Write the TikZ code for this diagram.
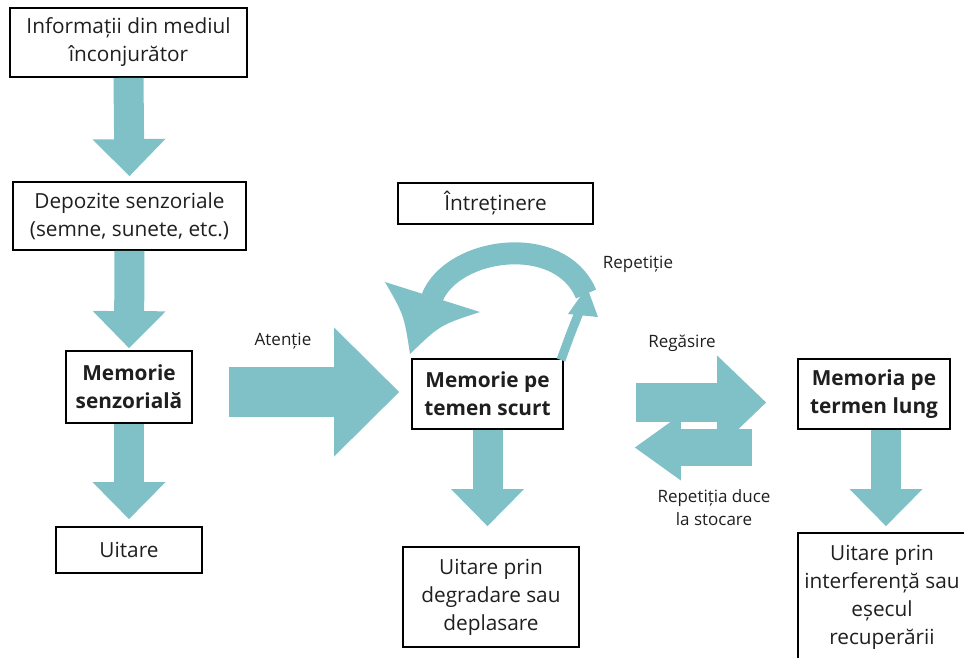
\documentclass[tikz,border=0pt]{standalone}
\usepackage{fontspec}
\setmainfont{Open Sans}
\usetikzlibrary{arrows.meta,calc}
\definecolor{flowteal}{RGB}{127,193,199}

\begin{document}
\begin{tikzpicture}[x=1pt,y=-1pt,
box/.style={draw=black,line width=1.8pt,align=center,inner sep=0pt,font=\fontsize{20.8}{28}\selectfont,text=black!88},
boldbox/.style={box,font=\fontsize{20.8}{28}\selectfont\bfseries},
lbl/.style={font=\fontsize{17}{23}\selectfont,text=black!88,align=center},
flow/.style={draw=flowteal,line width=30pt,-{Triangle[width=73pt,length=37pt,line width=0pt]}},
]
\useasboundingbox (0,0) rectangle (964,657);
\clip (0,0) rectangle (964,657);

\node[box,minimum width=237pt,minimum height=69pt] (info) at (128.5,42.5) {Informații din mediul\\înconjurător};
\node[box,minimum width=233pt,minimum height=68pt] (dep) at (129.5,216) {Depozite senzoriale\\(semne, sunete, etc.)};
\node[boldbox,minimum width=126pt,minimum height=72pt] (sm) at (129,387) {Memorie\\senzorială};
\node[box,minimum width=146pt,minimum height=46pt] (uit) at (129,550) {Uitare};
\node[box,minimum width=195pt,minimum height=41pt] (intr) at (495.5,203.5) {Întreținere};
\node[boldbox,minimum width=151pt,minimum height=70pt] (stm) at (487.5,394) {Memorie pe\\temen scurt};
\node[box,minimum width=176pt,minimum height=100pt] (uitdeg) at (491,597) {Uitare prin\\degradare sau\\deplasare};
\node[boldbox,minimum width=152pt,minimum height=70pt] (ltm) at (874,394) {Memoria pe\\termen lung};
\node[box,minimum width=168pt,minimum height=128pt] (uitint) at (882,597) {Uitare prin\\interferență sau\\eșecul\\recuperării};

\draw[flow,shorten >=5pt] (info.south) -- (dep.north);
\draw[flow,shorten >=2pt] (dep.south) -- (sm.north);
\draw[flow,shorten >=7pt] (sm.south) -- (uit.north);
\draw[flow,shorten >=20pt] (stm.south) -- (stm.south |- uitdeg.north);
\draw[flow,shorten >=6pt] ([xshift=12pt]ltm.south) -- ([xshift=12pt]ltm.south |- uitint.north);

\draw[flow,line width=50pt,-{Triangle[width=129pt,length=65pt,line width=0pt]},shorten <=36pt,shorten >=12pt]
  ([yshift=-5pt]sm.east) -- ([yshift=-5pt]sm.east -| stm.west);
\draw[flow,line width=39pt,-{Triangle[width=94pt,length=49pt,line width=0pt]},shorten <=72pt,shorten >=31pt]
  ([yshift=-8.5pt]stm.east) -- ([yshift=-8.5pt]ltm.west);
\draw[flow,line width=37pt,-{Triangle[width=66pt,length=46pt,line width=0pt]},shorten <=45pt,shorten >=71pt]
  ([yshift=-53.5pt]ltm.west) -- ([yshift=-53.5pt]stm.east);

\draw[flowteal,line width=22pt] (586,294) .. controls (560,232) and (452,247) .. (432,298);
\fill[flowteal] (385,282) .. controls (404,315) .. (410,354) .. controls (440,325) .. (480,312) -- cycle;
\draw[flowteal,line width=9pt] (561,360) .. controls (570,335) .. (582,305);
\fill[flowteal] (568,314) -- (587,287) -- (598,317) -- cycle;

\node[lbl] (att) at (283,341) {Atenție};
\node[lbl] (rep) at (638,264) {Repetiție};
\node[lbl] (rega) at (682,343) {Regăsire};
\node[lbl] (stoc) at (714,508) {Repetiția duce\\la stocare};
\end{tikzpicture}
\end{document}
